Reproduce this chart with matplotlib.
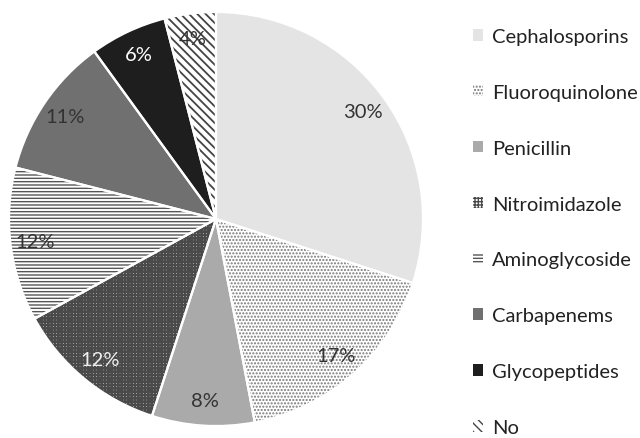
import matplotlib
matplotlib.use("Agg")
import matplotlib.pyplot as plt

plt.rcParams['font.family'] = ['Lato', 'DejaVu Sans']

categories = ["Cephalosporins", "Fluoroquinolone", "Penicillin", "Nitroimidazole",
              "Aminoglycoside", "Carbapenems", "Glycopeptides", "No"]
shares = [30, 17, 8, 12, 12, 11, 6, 4]

face_colors = ["#e4e4e4", "#ffffff", "#aaaaaa", "#ffffff",
               "#ffffff", "#707070", "#1e1e1e", "#ffffff"]
hatch_colors = ["#e4e4e4", "#777777", "#aaaaaa", "#4a4a4a",
                "#555555", "#707070", "#1e1e1e", "#444444"]
hatches = [None, ".....", None, "+++++", "-----", None, None, "\\\\\\\\"]
hatch_widths = [1.0, 1.0, 1.0, 1.8, 1.0, 1.0, 1.0, 1.3]
label_colors = ["#333333", "#333333", "#333333", "#eeeeee",
                "#333333", "#333333", "#ffffff", "#333333"]

fig = plt.figure(figsize=(6.40, 4.39), dpi=100)
ax = fig.add_axes([9 / 640, 12 / 439, 414 / 640, 414 / 439])

wedges, texts, autotexts = ax.pie(
    shares, startangle=90, counterclock=False, colors=face_colors,
    autopct=lambda p: f"{p:.0f}%", pctdistance=0.88,
    wedgeprops=dict(linewidth=0),
    textprops=dict(fontsize=14.5))

for w, hc, h, hw in zip(wedges, hatch_colors, hatches, hatch_widths):
    w.set_edgecolor(hc)
    w.set_linewidth(0)
    if h:
        if hasattr(w, "set_hatch_linewidth"):
            w.set_hatch_linewidth(hw)
        else:
            w._hatch_linewidth = hw
        w.set_hatch(h)

for t, c in zip(autotexts, label_colors):
    t.set_color(c)

# white separators between slices
ax.pie(shares, startangle=90, counterclock=False,
       colors=["none"] * len(shares),
       wedgeprops=dict(linewidth=1.6, edgecolor="white", fill=False))

ax.set_xlim(-1.0, 1.0)
ax.set_ylim(-1.0, 1.0)
ax.set_aspect("equal")

leg = fig.legend(wedges, categories, loc="upper left",
                 bbox_to_anchor=(473 / 640, 1 - 29 / 439),
                 frameon=False, fontsize=14.5, borderpad=0, borderaxespad=0,
                 handlelength=0.5, handleheight=0.5, handletextpad=0.45,
                 labelspacing=1.93, labelcolor="#222222")

fig.savefig("out.png", dpi=100)
